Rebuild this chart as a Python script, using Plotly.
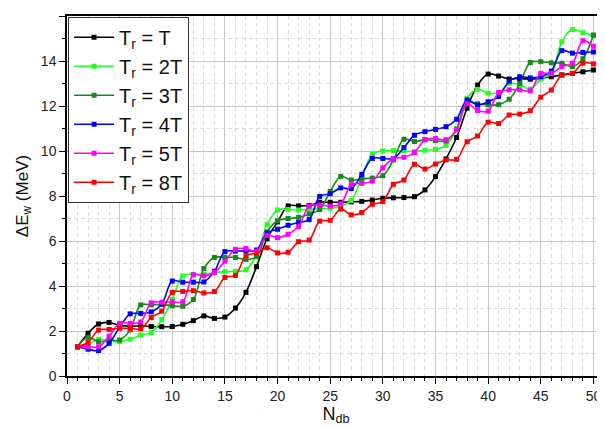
import plotly.graph_objects as go

n_db = list(range(1, 51))

e_T = [1.30, 1.90, 2.31, 2.38, 2.25, 2.22, 2.22, 2.20, 2.19, 2.20,
       2.30, 2.46, 2.67, 2.56, 2.62, 3.02, 3.72, 4.86, 6.10, 6.85,
       7.56, 7.56, 7.58, 7.72, 7.72, 7.72, 7.74, 7.76, 7.82, 7.90,
       7.92, 7.93, 7.97, 8.27, 8.86, 9.65, 10.60, 11.90, 12.93, 13.42,
       13.33, 13.20, 13.22, 13.19, 13.23, 13.30, 13.38, 13.45, 13.52, 13.60]

e_2T = [1.30, 1.40, 1.63, 1.55, 1.53, 1.63, 1.82, 1.93, 2.50, 3.40,
        4.45, 4.52, 4.52, 4.60, 4.64, 4.65, 4.72, 5.38, 6.73, 7.38,
        7.40, 7.38, 7.40, 7.45, 7.45, 7.55, 7.80, 8.82, 9.86, 10.00,
        10.02, 10.00, 9.98, 10.04, 10.07, 10.25, 11.00, 12.34, 12.74, 12.57,
        12.60, 13.00, 12.95, 12.75, 13.20, 13.45, 14.86, 15.40, 15.26, 15.15]

e_3T = [1.30, 1.72, 1.52, 1.60, 1.60, 2.05, 3.16, 3.16, 3.18, 3.12,
        3.10, 3.40, 4.78, 5.27, 5.27, 5.27, 5.18, 5.30, 6.40, 6.90,
        7.00, 7.05, 7.20, 7.40, 8.20, 8.87, 8.71, 8.76, 8.80, 8.90,
        9.60, 10.52, 10.42, 10.50, 10.46, 10.45, 10.96, 12.15, 12.10, 12.05,
        12.06, 12.30, 13.00, 13.93, 13.97, 13.92, 13.90, 13.75, 14.10, 15.15]

e_4T = [1.30, 1.19, 1.13, 1.45, 2.17, 2.76, 2.78, 2.85, 3.20, 4.22,
        4.17, 4.17, 4.18, 4.65, 5.53, 5.55, 5.56, 5.60, 6.36, 6.52,
        6.70, 6.82, 6.95, 7.98, 8.10, 8.36, 8.33, 8.96, 9.67, 9.67,
        9.67, 10.15, 10.70, 10.86, 10.96, 11.08, 11.41, 12.27, 12.04, 12.19,
        12.42, 13.10, 13.30, 13.25, 13.30, 13.55, 14.46, 14.35, 14.38, 14.40]

e_5T = [1.30, 1.30, 1.30, 1.77, 2.34, 2.34, 2.40, 3.25, 3.28, 3.30,
        3.30, 4.50, 4.45, 4.60, 5.10, 5.63, 5.67, 5.55, 6.25, 6.15,
        6.30, 6.64, 7.55, 7.60, 7.55, 7.65, 8.50, 8.56, 8.66, 9.25,
        9.67, 9.72, 9.93, 10.50, 10.55, 10.50, 10.95, 12.10, 11.80, 11.77,
        12.60, 12.72, 12.72, 12.68, 13.45, 13.45, 13.75, 13.90, 14.90, 14.65]

e_8T = [1.30, 1.50, 2.04, 2.07, 2.12, 2.12, 2.10, 2.60, 2.88, 3.72,
        3.76, 3.79, 3.69, 3.75, 4.38, 4.47, 5.35, 5.45, 5.70, 5.47,
        5.50, 5.97, 6.04, 6.88, 6.92, 7.42, 7.16, 7.27, 7.63, 7.75,
        8.52, 8.71, 9.41, 9.20, 9.42, 9.60, 9.63, 10.41, 10.67, 11.28,
        11.22, 11.60, 11.64, 11.79, 12.39, 12.71, 13.38, 13.45, 13.90, 13.87]

series = [
    ("T<sub>r</sub> = T", e_T, "#000000"),
    ("T<sub>r</sub> = 2T", e_2T, "#22FF22"),
    ("T<sub>r</sub> = 3T", e_3T, "#168A16"),
    ("T<sub>r</sub> = 4T", e_4T, "#0000FF"),
    ("T<sub>r</sub> = 5T", e_5T, "#FF00FF"),
    ("T<sub>r</sub> = 8T", e_8T, "#FF0000"),
]

fig = go.Figure()
for name, vals, col in series:
    fig.add_trace(go.Scatter(
        x=n_db, y=vals, name=name, mode="lines+markers",
        line=dict(color=col, width=1.6, shape="spline", smoothing=1.0),
        marker=dict(symbol="square", size=5, color=col),
    ))

font_fam = "Liberation Sans, Arial, sans-serif"
axis_common = dict(
    showline=True, linecolor="black", linewidth=1.5, mirror=True,
    ticks="outside", ticklen=6, tickwidth=1, tickcolor="black",
    showgrid=True, gridcolor="#C8C8C8", gridwidth=1,
    zeroline=False, automargin=False,
    tickfont=dict(family=font_fam, size=14, color="#222"),
)

minor_common = dict(dtick=1, ticklen=3, tickcolor="black", ticks="outside",
                    showgrid=True, gridcolor="#DCDCDC", griddash="4px,3px")

fig.update_xaxes(
    range=[0, 51.1], dtick=5, tick0=0,
    minor=minor_common,
    title=dict(text="N<sub>db</sub>", standoff=4,
               font=dict(family=font_fam, size=18, color="#111")),
    **axis_common,
)
fig.update_yaxes(
    range=[0, 16], dtick=2, tick0=0,
    minor=minor_common,
    title=dict(text="ΔE<sub>w</sub> (MeV)", standoff=8,
               font=dict(family=font_fam, size=17, color="#111")),
    **axis_common,
)

# page body keeps a default 8px margin, so the figure is sized to fit the window
fig.update_layout(
    width=597, height=419,
    margin=dict(l=59, r=0, t=8, b=51),
    plot_bgcolor="white", paper_bgcolor="white",
    legend=dict(
        x=0.002, y=0.998, xanchor="left", yanchor="top",
        bgcolor="white", bordercolor="#333", borderwidth=1,
        font=dict(family=font_fam, size=20, color="#111"),
        tracegroupgap=0, itemwidth=40,
    ),
)

fig.write_html("out.html")
